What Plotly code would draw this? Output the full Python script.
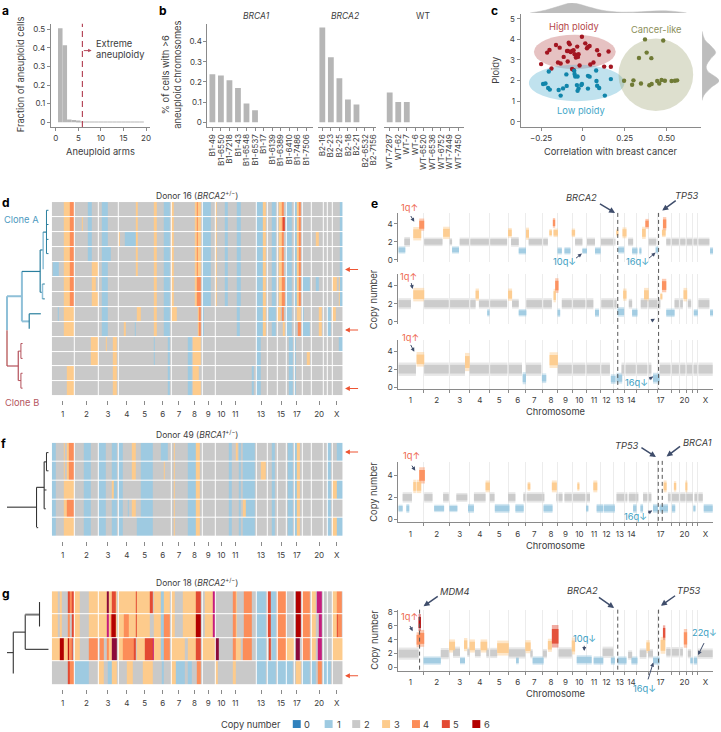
import numpy as np
import plotly.graph_objects as go

W, H = 721, 732
FONT = "Inter"
TXT = "#3c3c3c"
AX = "#8a8a8a"
BARC = "#b6b6b6"
CN_COLORS = ["#3182bd", "#9ecae1", "#c9c9c9", "#fdcb8c", "#fc8d59", "#e34a33", "#b30000", "#c51b7d", "#8b0a3a"]

# ---------- panel a ----------
ARMS = list(range(1, 20))
ARM_FRACTION = [.505, .413, .015, .013, .005, .004, .003, .003, .004, .004, .003, .003, .003, .004, .004, .003, .003, .003, .004]
# ---------- panel b ----------
B1_LABELS = ["B1-49", "B1-6550", "B1-7218", "B1-43", "B1-6548", "B1-6537", "B1-17", "B1-6139", "B1-6389", "B1-6410", "B1-7486", "B1-7506"]
B1_VALUES = [.238, .232, .208, .17, .093, .06, 0, 0, 0, 0, 0, 0]
B2_LABELS = ["B2-16", "B2-23", "B2-25", "B2-18", "B2-21", "B2-6532", "B2-7156"]
B2_VALUES = [.47, .322, .218, .113, .088, 0, 0]
WT_LABELS = ["WT-7287", "WT-62", "WT-7", "WT-6", "WT-6520", "WT-6536", "WT-6752", "WT-7449", "WT-7450"]
WT_VALUES = [.148, .1, .1, 0, 0, 0, 0, 0, 0]
# ---------- panel c ----------
HIGH_X = [-.006, .014, .04, .03, .024, -.085, -.079, -.161, -.139, -.034, -.2, -.214, .085, .153, .097, -.089, -.095, -.065, -.073, -.056, -.115, -.05, -.036, -.026, -.042, -.03, -.149, -.133, .063, .044, -.02, -.091, -.25, -.188, -.065, .127, .167, -.056]
HIGH_Y = [4.13, 3.81, 3.68, 3.63, 3.57, 3.84, 3.76, 3.73, 3.6, 3.65, 3.49, 3.36, 3.47, 3.41, 3.25, 3.44, 3.44, 3.44, 3.39, 3.47, 3.15, 3.28, 3.25, 3.28, 3.12, 3.15, 2.88, 2.83, 2.88, 2.78, 2.73, 2.93, 2.8, 2.59, 2.56, 2.68, 2.67, 2.51]
LOW_X = [-.204, .079, -.099, -.052, -.05, -.046, -.032, .03, .04, .167, .081, -.238, -.224, -.208, -.198, -.145, -.119, -.097, -.036, -.01, -.026, -.032, .03, .085, .097, -.133, .131, -.006]
LOW_Y = [2.44, 2.49, 2.3, 2.48, 2.32, 2.2, 2.2, 2.23, 2.19, 2.07, 1.98, 1.83, 1.86, 1.64, 1.56, 1.54, 1.62, 1.74, 1.78, 1.78, 1.62, 1.5, 1.61, 1.75, 1.64, 1.27, 1.27, 1.83]
CANCER_X = [.371, .48, .381, .335, .409, .246, .302, .294, .347, .397, .411, .444, .456, .47, .49, .53, .55, .563]
CANCER_Y = [4.0, 3.95, 3.36, 3.1, 3.09, 1.99, 2.01, 1.8, 1.86, 1.77, 1.83, 1.98, 1.86, 2.03, 1.99, 1.98, 1.99, 2.01]
TOP_DENS_X = [-.315, -.225, -.145, -.065, .035, .113, .232, .351, .510, .619]
TOP_DENS_Y = [0, .27, .67, 1, .6, .27, .07, .13, .2, 0]
RIGHT_DENS_Y = [4.4, 4.0, 3.7, 3.36, 3.05, 2.7, 2.47, 2.0, 1.67, 1.27, 1.03]
RIGHT_DENS_X = [0, .15, .5, .8, .5, .25, .32, 1, .55, .1, 0]

# ---------- heat maps: (from, to, copy number) on a shared genome ruler ----------
HEAT_GAPS = [220, 293, 352, 408, 460, 512, 562, 605, 645, 686, 728, 768, 802, 833, 860, 883, 908, 935, 970, 983, 997]
HEAT_TICKS = [185, 257, 322, 379, 433, 487, 536, 583, 624, 664, 706, 784, 844, 892, 959, 1012]
HEAT_LABELS = ["1", "2", "3", "4", "5", "6", "7", "8", "9", "10", "11", "13", "15", "17", "20", "X"]
A_CORE = [(304, 322, 1), (462, 471, 3), (490, 510, 1), (606, 633, 1), (711, 724, 1), (769, 790, 1), (790, 798, 3), (815, 830, 1), (862, 877, 1), (1023, 1030, 1)]
A_TOP = [(189, 207, 3), (207, 219, 4), (516, 522, 3), (583, 590, 3), (590, 593, 4), (593, 603, 3), (645, 652, 3), (674, 683, 1), (839, 848, 3), (848, 854, 4), (885, 893, 1), (893, 898, 3), (898, 904, 4)]
A_2Q = [(262, 274, 1), (407, 411, 3)]
B_CORE = [(336, 348, 3), (502, 510, 1), (563, 574, 1), (769, 783, 1), (868, 879, 1), (885, 890, 1)]
A_LATE = [(189, 219, 3), (304, 322, 1), (462, 471, 3), (490, 510, 1), (606, 612, 1), (711, 720, 1), (769, 790, 1), (790, 798, 3), (862, 877, 1), (957, 966, 3), (985, 993, 1)]
HEAT_D = [
    A_CORE + A_TOP + A_2Q,
    A_CORE + A_TOP + A_2Q + [(242, 247, 3), (850, 856, 5)],
    A_CORE + A_TOP + A_2Q + [(353, 357, 3), (373, 405, 1), (950, 957, 3)],
    A_CORE + A_TOP + A_2Q + [(304, 330, 1)],
    A_CORE + A_TOP + [(155, 173, 1), (275, 291, 3), (407, 411, 3)],
    A_CORE + A_TOP + [(275, 287, 3), (591, 603, 4), (850, 856, 4), (910, 930, 1), (950, 957, 1), (1000, 1013, 3), (1018, 1023, 3)],
    A_CORE + A_TOP + [(275, 291, 3), (591, 603, 4), (850, 856, 4), (1020, 1023, 3)],
    A_LATE + [(171, 173, 1), (408, 422, 3), (516, 530, 3), (594, 597, 3), (597, 603, 4), (806, 830, 1), (835, 845, 3), (848, 854, 4), (893, 905, 3), (908, 912, 1), (998, 1010, 3)],
    A_LATE + [(369, 375, 3), (402, 405, 1), (594, 597, 3), (597, 603, 4), (815, 830, 1), (849, 855, 3), (894, 904, 4), (908, 930, 1)],
    B_CORE + [(271, 291, 3), (316, 320, 3), (462, 464, 1), (579, 603, 3), (728, 730, 3), (1020, 1030, 1)],
    B_CORE + [(271, 291, 3), (462, 465, 1), (579, 603, 3), (921, 930, 3)],
    B_CORE + [(197, 219, 3), (579, 596, 3), (755, 763, 1)],
    B_CORE + [(197, 219, 3), (579, 603, 3), (755, 763, 1)],
]
F_CORE = [(153, 165, 1), (250, 272, 1), (295, 317, 1), (333, 349, 1), (354, 366, 1), (422, 458, 1), (564, 586, 1), (586, 600, 3), (688, 696, 1), (716, 724, 1), (730, 765, 1), (817, 827, 1), (866, 880, 1), (885, 893, 1), (893, 900, 3), (933, 937, 1), (985, 993, 1)]
HEAT_F = [
    F_CORE + [(189, 191, 3), (198, 205, 3), (205, 219, 4), (395, 405, 3), (483, 503, 1), (520, 524, 3), (707, 713, 3), (1013, 1030, 1)],
    F_CORE + [(189, 191, 3), (198, 205, 3), (205, 219, 4), (395, 405, 3), (490, 493, 3), (520, 524, 3), (782, 798, 3)],
    F_CORE + [(189, 219, 3), (333, 340, 3), (520, 524, 3), (1000, 1013, 3), (1013, 1030, 1)],
    F_CORE + [(189, 198, 3), (198, 219, 4), (382, 386, 1), (395, 405, 3), (520, 524, 3), (730, 737, 3)],
    F_CORE + [(189, 219, 3), (410, 420, 1), (520, 524, 3), (1000, 1013, 3), (1013, 1030, 1)],
]
G_COMMON = [(153, 170, 3), (178, 184, 3), (222, 238, 3), (266, 292, 3), (296, 320, 3), (324, 335, 3), (345, 350, 3), (354, 407, 3), (410, 448, 3), (462, 483, 3), (483, 490, 1), (490, 510, 3), (514, 525, 3), (548, 562, 3), (563, 588, 3), (588, 603, 5), (615, 640, 3), (700, 708, 4), (708, 712, 3), (732, 756, 4), (768, 799, 1), (814, 830, 1), (834, 858, 4), (910, 930, 4), (936, 950, 3), (1000, 1014, 3), (1014, 1028, 4)]
HEAT_G = [
    G_COMMON + [(200, 206, 5), (206, 212, 4), (212, 219, 5), (320, 324, 8), (335, 345, 5), (407, 410, 5), (448, 458, 5), (640, 645, 7), (803, 812, 5), (890, 903, 6), (952, 966, 7)],
    G_COMMON + [(200, 206, 4), (212, 219, 5), (320, 324, 7), (330, 335, 5), (335, 345, 6), (370, 386, 4), (407, 410, 5), (490, 510, 4), (588, 603, 6), (640, 646, 7), (803, 812, 5), (890, 903, 6), (958, 966, 7), (1012, 1015, 5)],
    [(153, 178, 3), (178, 190, 6), (190, 200, 3), (200, 205, 6), (205, 212, 4), (212, 217, 5), (222, 236, 3), (265, 292, 4), (298, 310, 4), (320, 325, 4), (325, 335, 3), (335, 348, 8), (354, 368, 3), (368, 400, 4), (400, 406, 5), (410, 433, 3), (433, 458, 5), (458, 460, 7), (462, 483, 3), (483, 490, 1), (490, 510, 4), (514, 555, 3), (563, 588, 3), (588, 603, 5), (606, 645, 3), (646, 656, 8), (700, 708, 4), (708, 724, 3), (730, 756, 4), (768, 798, 1), (806, 812, 5), (815, 830, 1), (834, 858, 4), (862, 885, 3), (890, 902, 8), (910, 930, 4), (936, 950, 3), (955, 966, 7), (1000, 1030, 3)],
    [(200, 206, 5), (206, 219, 4), (222, 266, 1), (296, 310, 3), (323, 335, 1), (335, 350, 3), (380, 398, 3), (427, 458, 3), (485, 490, 1), (514, 528, 3), (528, 554, 1), (563, 574, 1), (590, 603, 4), (645, 655, 3), (700, 708, 3), (768, 799, 1), (803, 830, 1), (834, 858, 1), (862, 880, 1), (890, 905, 3), (908, 930, 1), (936, 950, 1), (955, 966, 4), (970, 983, 1), (985, 993, 1)],
]

# ---------- copy-number profiles: (from, to, copy number, half spread) ----------
PROFILE_BOUNDS = [193, 271, 332, 392, 448, 502, 552, 598, 642, 683, 727, 767, 800, 835, 870, 900, 940, 965, 985, 1005, 1020]
PROFILE_TICKS = [153, 233, 302, 363, 421, 477, 527, 577, 621, 663, 707, 745, 785, 820, 908, 980, 1043]
PROFILE_LABELS = ["1", "2", "3", "4", "5", "6", "7", "8", "9", "10", "11", "12", "13", "14", "17", "20", "X"]
E1 = [(117, 138, 1.1, .3), (135, 152, 2, .4), (162, 186, 2.9, .55), (180, 195, 3.9, .5), (192, 250, 2, .35), (252, 272, 3, .5), (272, 279, 2, .3), (279, 300, 1.1, .3), (302, 445, 2, .35), (448, 459, 3, .4), (457, 480, 2, .4), (480, 502, 1, .3), (502, 511, 2.9, .5), (510, 568, 2, .35), (574, 580, 3, .3), (585, 598, 3, .35), (583, 590, 4.1, .4), (597, 610, 1, .3), (618, 636, 1, .3), (640, 650, 3, .35), (650, 672, 2, .35), (672, 686, 1, .25), (686, 710, 2, .35), (710, 727, 1, .3), (728, 770, 2, .35), (775, 780, 3, .3), (780, 798, 1.1, .3), (793, 805, 3, .45), (810, 825, 2, .35), (822, 838, 1, .3), (845, 850, 1, .3), (852, 863, 3, .5), (862, 872, 4, .4), (872, 895, 2, .35), (893, 901, 1.1, .3), (912, 923, 3, .35), (915, 925, 4, .55), (925, 1055, 2, .35), (1057, 1067, 1, .3)]
E2 = [(117, 155, 2, .45), (162, 195, 3, .55), (195, 350, 2, .45), (350, 360, 3, .5), (360, 445, 2, .4), (385, 392, 1, .3), (448, 460, 3, .5), (460, 480, 2, .4), (480, 503, 1, .3), (503, 580, 2, .45), (585, 592, 2.9, .55), (590, 600, 4, .6), (597, 605, 1, .35), (610, 705, 2, .45), (710, 722, 1, .35), (725, 775, 2, .45), (778, 798, 1.1, .4), (795, 805, 3, .5), (812, 822, 2, .4), (822, 838, 1, .35), (848, 905, 2, .45), (858, 872, 3, .55), (908, 912, 2.8, .3), (912, 925, 4, .55), (925, 950, 1, .35), (950, 975, 2, .45), (977, 988, 3, .55), (990, 1000, 2, .4), (1008, 1020, 1, .3), (1022, 1055, 2, .45), (1057, 1067, 1, .3)]
E3 = [(117, 170, 2, .55), (172, 195, 3.1, .6), (195, 318, 2, .55), (318, 332, 2.8, .75), (332, 490, 2, .55), (492, 502, 1, .5), (502, 548, 2, .55), (550, 563, 1, .4), (573, 598, 3, .65), (598, 755, 2, .55), (758, 772, .9, .4), (775, 792, 1, .45), (790, 880, 2, .55), (885, 905, 1, .45), (905, 1065, 2, .55)]
F_PROFILE = [(117, 130, 1, .25), (130, 158, 2, .35), (144, 150, 1, .3), (162, 170, 3, .45), (172, 186, 3, .45), (180, 197, 4, .55), (195, 220, 2, .35), (225, 255, 1, .25), (252, 272, 2, .35), (271, 295, 1, .25), (292, 325, 2, .3), (327, 345, 1, .3), (345, 380, 2, .35), (380, 393, 3, .4), (393, 407, 2, .35), (408, 452, 1, .3), (448, 470, 2, .35), (470, 495, 1, .3), (495, 555, 2, .35), (507, 515, 3, .3), (555, 582, 1, .3), (580, 595, 3, .4), (595, 612, 2, .35), (618, 695, 2, .35), (658, 663, 3, .3), (683, 690, 1, .25), (705, 717, 3, .4), (715, 735, 1, .3), (737, 770, 1, .3), (775, 805, 2, .35), (812, 840, 2, .35), (825, 835, 1, .3), (847, 855, 1, .3), (855, 880, 2, .35), (885, 900, 1, .3), (905, 930, 1, .3), (917, 926, 3, .4), (930, 990, 2, .35), (942, 952, 1, .3), (948, 955, 3, .35), (983, 988, 3, .4), (990, 1005, 2, .35), (1008, 1013, 1, .25), (1010, 1035, 2, .35), (1038, 1065, 1, .3)]
G_PROFILE = [(117, 178, 2, .65), (172, 183, 4, .8), (178, 195, 4.2, .9), (178, 185, 6.5, .9), (193, 245, 1, .45), (245, 272, 2, .6), (270, 288, 3.1, .7), (282, 303, 2.2, .6), (303, 318, 1, .4), (315, 325, 3.3, .7), (325, 332, 2.2, .5), (332, 348, 3.1, .7), (348, 365, 2.1, .5), (365, 385, 3.1, .7), (385, 415, 2.1, .55), (415, 450, 2.8, .8), (450, 500, 2.1, .6), (472, 480, 1, .4), (500, 516, 3, .7), (516, 522, 2, .5), (522, 555, 1, .45), (553, 565, 2, .5), (568, 580, 3.2, .7), (580, 600, 4.5, 1.2), (600, 640, 2.1, .6), (640, 650, 3.1, .9), (655, 700, 1.1, .5), (706, 735, 1, .45), (733, 765, 2.2, .6), (758, 770, 1, .45), (778, 805, 1, .45), (810, 822, 1.8, .5), (820, 838, 1, .45), (845, 865, 2, .55), (865, 875, 3, .7), (870, 885, 2, .5), (885, 905, 1, .45), (908, 922, 3.2, .9), (915, 922, 5, .8), (925, 975, 2.2, .55), (978, 988, 4.2, 1), (990, 1000, 2, .5), (1000, 1005, 1, .4), (1008, 1018, 1, .45), (1020, 1065, 2, .55)]

# ---------- trees: (x0, y0, x1, y1, colour, width) in ruler units of their panel ----------
LB, DB, RL, RD, BK = "#8fc0d8", "#2a7f9e", "#cf9090", "#b4505a", "#333333"
TREE_D = [(18, 347, 18, 450, LB, 2), (18, 450, 18, 558, RL, 2), (18, 347, 63, 347, LB, 2), (63, 272, 63, 423, LB, 2), (63, 272, 118, 272, DB, 1.2), (63, 423, 85, 423, LB, 2), (85, 400, 85, 445, DB, 1.2), (85, 400, 120, 400, DB, 1.2), (118, 207, 118, 335, DB, 1.2), (118, 207, 127, 207, DB, 1.2), (127, 153, 127, 265, LB, 1.5), (127, 153, 137, 153, DB, 1.2), (137, 87, 137, 218, DB, 1), (137, 87, 143, 87, DB, 1), (137, 130, 143, 130, DB, 1), (137, 175, 143, 175, DB, 1), (137, 218, 143, 218, DB, 1), (118, 335, 125, 335, DB, 1), (125, 310, 125, 355, LB, 1.5), (125, 310, 132, 310, DB, 1), (125, 355, 132, 355, DB, 1), (18, 558, 52, 558, RD, 1.2), (52, 513, 52, 602, RD, 1.2), (52, 513, 60, 513, RD, 1), (60, 490, 60, 535, RD, 1), (60, 490, 65, 490, RD, 1), (60, 535, 65, 535, RD, 1), (52, 602, 60, 602, RD, 1), (60, 580, 60, 625, RD, 1), (60, 580, 65, 580, RD, 1), (60, 625, 65, 625, RD, 1)]
TREE_F = [(18, 265, 107, 265, BK, 1.1), (107, 205, 107, 325, BK, 1.1), (107, 205, 130, 205, BK, 1.1), (130, 128, 130, 270, BK, 1.1), (130, 128, 137, 128, BK, 1.1), (137, 100, 137, 155, BK, 1), (137, 100, 143, 100, BK, 1), (137, 155, 143, 155, BK, 1), (130, 213, 137, 213, BK, 1), (130, 270, 135, 270, BK, 1), (107, 327, 112, 327, BK, 1)]
TREE_G = [(18, 705, 37, 705, BK, 1.1), (37, 643, 37, 768, BK, 1.1), (37, 643, 73, 643, BK, 1.1), (73, 590, 73, 695, BK, 1.1), (73, 590, 116, 590, "#777777", 2), (116, 552, 116, 626, BK, 1.1), (73, 695, 143, 695, BK, 1.1)]

LEGEND_CN = [0, 1, 2, 3, 4, 5, 6]
LEGEND_SWATCH = [293, 325, 352.7, 382.7, 412.7, 442.7, 473.3]

# ---------- figure scaffolding ----------
fig = go.Figure()
layout = {}
counter = [0]
annos, shapes = [], []


def new_axes(x0, y0, x1, y1, xopts, yopts):
    counter[0] += 1
    n = counter[0]
    base = dict(showgrid=False, zeroline=False, showline=False, ticks="", showticklabels=False,
                tickfont=dict(size=8, color=TXT, family=FONT))
    xa = {**base, "domain": [x0 / W, x1 / W], "anchor": f"y{n}", **xopts}
    ya = {**base, "domain": [1 - y1 / H, 1 - y0 / H], "anchor": f"x{n}", **yopts}
    layout[f"xaxis{n}"] = xa
    layout[f"yaxis{n}"] = ya
    return f"x{n}", f"y{n}"


def text(x, y, s, size=9.3, color=TXT, angle=0, anchor="center"):
    annos.append(dict(x=x / W, y=1 - y / H, xref="paper", yref="paper", text=s, showarrow=False, xanchor=anchor,
                      yanchor="middle", textangle=angle, font=dict(size=size, color=color, family=FONT), align="center"))


def arrow(x0, y0, x1, y1, color="#3f4d6b", width=1.4, head=2, size=.8):
    annos.append(dict(x=x1 / W, y=1 - y1 / H, xref="paper", yref="paper", ax=x0 - x1, ay=y0 - y1, text="", showarrow=True,
                      arrowhead=head, arrowsize=size, arrowwidth=width, arrowcolor=color, standoff=0))


def vdash(x, y0, y1, color="#555555", dash="4px,3px", width=1):
    shapes.append(dict(type="line", xref="paper", yref="paper", x0=x / W, x1=x / W, y0=1 - y0 / H, y1=1 - y1 / H,
                       line=dict(color=color, width=width, dash=dash)))


AXL = dict(showline=True, linecolor=AX, linewidth=1, ticks="outside", ticklen=3, tickcolor=AX, showticklabels=True)

# panel a
xa, ya = new_axes(50, 20.7, 149.3, 125, {**AXL, "range": [-1.1, 20.8], "tickvals": [0, 5, 10, 15, 20]},
                  {**AXL, "range": [-.025, .53], "tickvals": [0, .1, .2, .3, .4, .5], "ticktext": ["0", "0.1", "0.2", "0.3", "0.4", "0.5"]})
fig.add_bar(x=ARMS, y=ARM_FRACTION, width=1, marker=dict(color=BARC, line_width=0), xaxis=xa, yaxis=ya)
fig.add_scatter(x=[5.9, 5.9], y=[-.025, .53], mode="lines", line=dict(color="#b5485a", width=1.2, dash="6px,4px"), xaxis=xa, yaxis=ya)

# panel b
GROUPS = [(207.3, 313.3, B1_LABELS, B1_VALUES, [-.58, 11.8], True), (318.3, 377, B2_LABELS, B2_VALUES, [-.51, 6.34], False), (385, 465, WT_LABELS, WT_VALUES, [-.62, 8.7], False)]
for gx0, gx1, labs, vals, rng, first in GROUPS:
    yo = {"range": [-.0235, .49]}
    if first:
        yo.update(AXL, tickvals=[0, .1, .2, .3, .4], ticktext=["0", "0.1", "0.2", "0.3", "0.4"])
    xa, ya = new_axes(gx0, 20.7, gx1, 125, {**AXL, "type": "category", "categoryorder": "array", "categoryarray": labs,
                                            "range": rng, "tickangle": -90, "tickmode": "array", "tickvals": labs, "ticktext": labs,
                                            "tickfont": dict(size=8, color=TXT, family=FONT)}, yo)
    fig.add_bar(x=labs, y=vals, width=.68, marker=dict(color=BARC, line_width=0), xaxis=xa, yaxis=ya)

# panel c
xa, ya = new_axes(521.7, 11, 703.3, 125, {**AXL, "range": [-.373, .708], "tickvals": [-.25, 0, .25, .5], "ticktext": ["−0.25", "0", "0.25", "0.50"]},
                  {**AXL, "range": [-.256, 5.24], "tickvals": [0, 1, 2, 3, 4, 5]})
for ex0, ex1, ey0, ey1, col in [(-.293, .196, 2.56, 4.23, "rgba(190,95,95,.38)"), (-.323, .248, 1.0, 2.77, "rgba(105,185,215,.42)"), (.2125, .659, .52, 4.05, "rgba(165,170,125,.38)")]:
    shapes.append(dict(type="circle", xref=xa, yref=ya, x0=ex0, x1=ex1, y0=ey0, y1=ey1, fillcolor=col, line_width=0, layer="below"))
for px, py, col in [(HIGH_X, HIGH_Y, "#a31621"), (LOW_X, LOW_Y, "#1185aa"), (CANCER_X, CANCER_Y, "#6f7a35")]:
    fig.add_scatter(x=px, y=py, mode="markers", marker=dict(color=col, size=4.4), xaxis=xa, yaxis=ya)
xa, ya = new_axes(521.7, 0, 703.3, 10, {"range": [-.373, .708]}, {"range": [0, 1]})
fig.add_scatter(x=TOP_DENS_X, y=TOP_DENS_Y, mode="lines", fill="tozeroy", fillcolor="#bdbdbd", line=dict(color="#bdbdbd", width=0.5, shape="spline"), xaxis=xa, yaxis=ya)
xa, ya = new_axes(704, 11, 721, 125, {"range": [0, 1]}, {"range": [-.256, 5.24]})
fig.add_scatter(x=RIGHT_DENS_X, y=RIGHT_DENS_Y, mode="lines", fill="tozerox", fillcolor="#bdbdbd", line=dict(color="#bdbdbd", width=0.5, shape="spline"), xaxis=xa, yaxis=ya)

# heat maps
COLS = np.arange(153, 1030)
stops = []
for i, c in enumerate(CN_COLORS):
    stops += [[i / len(CN_COLORS), c], [(i + 1) / len(CN_COLORS), c]]


def heat(rows, y0, y1, tick_y, ygap=1):
    z = np.full((len(rows), len(COLS)), 2.0)
    for r, segs in enumerate(rows):
        for a, b, cn in segs:
            z[r, (COLS >= a) & (COLS < b)] = cn
    for g in HEAT_GAPS:
        z[:, (COLS >= g) & (COLS < g + 2)] = np.nan
    xa, ya = new_axes(51, y0, 343, y1,
                      dict(range=[152.5, 1029.5], anchor="free", position=1 - tick_y / H, tickvals=HEAT_TICKS, ticktext=HEAT_LABELS,
                           ticks="outside", ticklen=4, tickcolor=AX, showticklabels=True, ticklabelstandoff=3),
                      dict(range=[len(rows) - .5, -.5]))
    fig.add_heatmap(z=z.tolist(), x=COLS.tolist(), y=list(range(len(rows))), zmin=-.5, zmax=8.5, colorscale=stops, showscale=False,
                    ygap=ygap, xaxis=xa, yaxis=ya, hoverongaps=False)


heat(HEAT_D, 200.7, 396.7, 400)
heat(HEAT_F, 443.3, 538.3, 542)
heat(HEAT_G, 593, 687.7, 691.5)

# profiles
SPREAD = 1.35


def level(cn):
    if cn < 1.6:
        return 1
    if cn < 2.5:
        return 2
    if cn < 3.5:
        return 3
    if cn < 4.35:
        return 4
    if cn < 6:
        return 5
    return 6


def split_gray(segs):
    """Gray clouds stop briefly where a chromosome ends, as in the profiles."""
    out = []
    for a, b, cn, h in segs:
        if level(cn) != 2:
            out.append((a, b, cn, h))
            continue
        edges = [a] + [v for v in PROFILE_BOUNDS if a < v < b] + [b]
        for s, e in zip(edges[:-1], edges[1:]):
            s2, e2 = s + (2 if s != a else 0), e - (2 if e != b else 0)
            if e2 > s2:
                out.append((s2, e2, cn, h))
    return out


def profile(segs, y0, y1, yr, ticks, full_axis):
    segs = split_gray(segs)
    xo = dict(range=[117, 1066], showline=full_axis, linecolor=AX, showgrid=False,
              minor=dict(tickmode="array", tickvals=PROFILE_BOUNDS, showgrid=True, gridcolor="#ececec", gridwidth=1,
                         ticks="outside" if full_axis else "", ticklen=3, tickcolor=AX))
    if full_axis:
        xo.update(tickvals=PROFILE_TICKS, ticktext=PROFILE_LABELS, showticklabels=True, ticks="outside", ticklen=4, tickcolor="rgba(0,0,0,0)")
    xa, ya = new_axes(399, y0, 715, y1, xo, {**AXL, "range": yr, "tickvals": ticks})
    for frac, op in [(SPREAD, .45), (SPREAD * .65, .9)]:
        for lv in sorted({level(s[2]) for s in segs}):
            sub = [s for s in segs if level(s[2]) == lv]
            fig.add_bar(x=[(s[0] + s[1]) / 2 for s in sub], width=[s[1] - s[0] for s in sub],
                        base=[s[2] - s[3] * frac for s in sub], y=[2 * s[3] * frac for s in sub],
                        marker=dict(color=CN_COLORS[lv], line_width=0), opacity=op, xaxis=xa, yaxis=ya)


profile(E1, 211.7, 261, [-.22, 5.2], [0, 2, 4], False)
profile(E2, 273, 323.5, [-.22, 5.3], [0, 2, 4], False)
profile(E3, 339.3, 389, [-.18, 5.3], [0, 2, 4], True)
profile(F_PROFILE, 462.3, 523.7, [-.27, 5.26], [0, 2, 4], True)
profile(G_PROFILE, 611.7, 673.3, [-.47, 8.33], [0, 2, 4, 6, 8], True)

# trees
tx, ty = new_axes(0, 0, W, H, {"range": [0, W]}, {"range": [H, 0]})
for branches, oy in [(TREE_D, 180), (TREE_F, 420), (TREE_G, 420)]:
    for x0, y0, x1, y1, col, wd in branches:
        fig.add_scatter(x=[x0 / 3, x1 / 3], y=[oy + y0 / 3, oy + y1 / 3], mode="lines", line=dict(color=col, width=wd), xaxis=tx, yaxis=ty)

# texts for panels a-c
for x, y, s in [(5, 8, "a"), (163, 8, "b"), (495.7, 8, "c"), (5, 200.7, "d"), (375, 201.7, "e"), (3, 444, "f"), (5, 595, "g")]:
    text(x, y, f"<b>{s}</b>", size=12, color="#000000")
text(100, 150, "Aneuploid arms")
text(19, 72, "Fraction of aneuploid cells", angle=-90)
text(171, 72, "% of cells with >6<br>aneuploid chromosomes", angle=-90)
text(93, 41, "Extreme", anchor="left")
text(93, 52, "aneuploidy", anchor="left")
arrow(81.7, 48, 91, 48, color="#b5485a", width=1, size=.7)
text(256.7, 13.3, "<i>BRCA1</i>", 8.5)
text(345, 13.3, "<i>BRCA2</i>", 8.5)
text(423.3, 13.3, "WT", 8.5)
text(612, 150, "Correlation with breast cancer")
text(496.7, 67.7, "Ploidy", angle=-90)
text(575.3, 23.7, "High ploidy", 9.3, "#b5474a")
text(657.3, 26.7, "Cancer-like", 9.3, "#8c8f5a")
text(582, 108, "Low ploidy", 9.3, "#3fa7c8")

# texts for heat maps
text(197, 193.3, "Donor 16 (<i>BRCA2</i><sup>+/−</sup>)", 8.5)
text(197, 434.7, "Donor 49 (<i>BRCA1</i><sup>+/−</sup>)", 8.5)
text(197, 583.3, "Donor 18 (<i>BRCA2</i><sup>+/−</sup>)", 8.5)
text(21, 218.5, "Clone A", 9.3, "#4d9abf")
text(21, 402.7, "Clone B", 9.3, "#b5575f")
for y in [268.7, 329.7, 388.7, 452.7, 678.3]:
    arrow(360, y, 345.5, y, color="#ee5533", width=1.2)

# texts for profiles (offsets: e panel 360/180; f, g panels 360/420)
RED, BLUE, DARK = "#ee6a50", "#3a9ec2", "#3f4d6b"
E_TEXTS = [(152, 79, "1q↑", RED), (149, 288, "1q↑", RED), (153, 472, "1q↑", RED), (668, 47, "<i>BRCA2</i>", TXT), (987, 42, "<i>TP53</i>", TXT),
           (617, 243, "10q↓", BLUE), (838, 243, "16q↓", BLUE), (835, 607, "16q↓", BLUE)]
E_ARROWS = [(152, 100, 165, 122, 1), (155, 303, 160, 325, 1), (152, 490, 165, 515, 1), (720, 65, 770, 95, 1.5), (957, 55, 912, 88, 1.5),
            (648, 235, 670, 218, 1), (868, 235, 892, 215, 1), (875, 424, 890, 415, 1), (868, 600, 885, 590, 1)]
FG_TEXTS = [(156, 110, "1q↑", RED), (806, 77, "<i>TP53</i>", TXT), (1018, 68, "<i>BRCA1</i>", TXT), (830, 292, "16q↓", BLUE),
            (150, 597, "1q↑", RED), (288, 520, "<i>MDM4</i>", TXT), (672, 518, "<i>BRCA2</i>", TXT), (992, 516, "<i>TP53</i>", TXT),
            (678, 662, "10q↓", BLUE), (858, 812, "16q↓", BLUE), (1040, 644, "22q↓", BLUE)]
FG_ARROWS = [(155, 135, 168, 155, 1), (845, 82, 893, 113, 1.5), (970, 78, 925, 112, 1.5), (865, 285, 882, 275, 1),
             (150, 620, 160, 640, 1), (240, 532, 193, 565, 1.5), (717, 535, 767, 570, 1.5), (955, 530, 908, 563, 1.5),
             (677, 680, 677, 700, 1), (868, 790, 885, 735, 1), (1040, 672, 1020, 712, 1)]
for tz, oy in [(E_TEXTS, 180), (FG_TEXTS, 420)]:
    for x, y, s, c in tz:
        text(360 + x / 3, oy + y / 3, s, 9.3, c)
for az, oy in [(E_ARROWS, 180), (FG_ARROWS, 420)]:
    for x0, y0, x1, y1, w in az:
        arrow(360 + x0 / 3, oy + y0 / 3, 360 + x1 / 3, oy + y1 / 3, width=w)
for x in [778, 901]:
    vdash(360 + x / 3, 180 + 95 / 3, 180 + 627 / 3)
for x in [900, 912]:
    vdash(360 + x / 3, 420 + 125 / 3, 420 + 311 / 3)
for x in [181, 778, 901]:
    vdash(360 + x / 3, 420 + 575 / 3, 420 + 760 / 3)
for y in [299, 493, 642.3]:
    text(374.3, y, "Copy number", angle=-90)
for y in [412, 546.7, 696]:
    text(557.3, y, "Chromosome")

# legend
text(250.7, 727, "Copy number")
for cn, sx in zip(LEGEND_CN, LEGEND_SWATCH):
    shapes.append(dict(type="rect", xref="paper", yref="paper", x0=sx / W, x1=(sx + 8) / W, y0=1 - 723 / H, y1=1 - 731 / H,
                       fillcolor=CN_COLORS[cn], line_width=0))
    text(sx + 14.5, 727, str(cn))

fig.update_layout(width=W, height=H, margin=dict(l=0, r=0, t=0, b=0), paper_bgcolor="white", plot_bgcolor="rgba(0,0,0,0)",
                  showlegend=False, barmode="overlay", font=dict(family=FONT, color=TXT), annotations=annos, shapes=shapes, **layout)
fig.write_html("out.html", config={"displayModeBar": False},
               post_script="document.body.style.margin='0';document.documentElement.style.overflow='hidden';")
